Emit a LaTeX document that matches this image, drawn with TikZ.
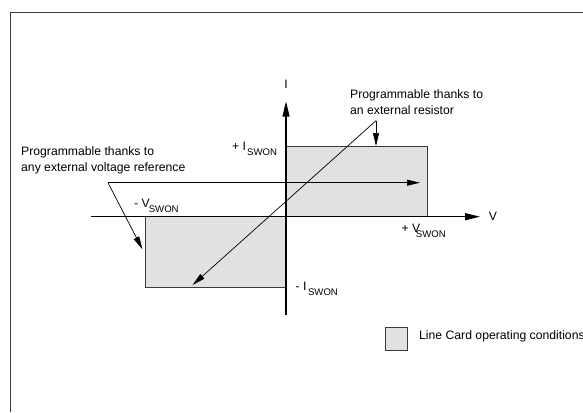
\documentclass[tikz,border=0pt]{standalone}
\usepackage{fontspec}
\setmainfont{Liberation Sans}
\usetikzlibrary{arrows.meta}
\definecolor{fillgray}{HTML}{E0E1E3}
\definecolor{linegray}{HTML}{3A3A3A}
\newcommand\swonsub{\raisebox{-5pt}{\fontsize{9.6}{10}\selectfont SWON}}
\tikzset{
  lbl/.style={inner sep=0pt, font=\fontsize{12.2}{16}\selectfont, text=black},
  axisline/.style={line width=1.2pt, black, -{Triangle[length=15pt,width=7pt]}},
  region/.style={fill=fillgray, draw=linegray, line width=0.9pt},
  pointer/.style={line width=0.7pt, black, -{Triangle[length=13pt,width=6pt]}},
  plainline/.style={line width=0.7pt, black},
}
\begin{document}
\begin{tikzpicture}[x=1pt,y=-1pt]
\useasboundingbox (0,0) rectangle (583,412);
\fill[white] (0,0) rectangle (583,412);
% frame
\draw[linegray, line width=1pt] (10.5,412) -- (10.5,13) -- (583,13);
% regions
\draw[region] (286,146) rectangle (427,216.7);
\draw[region] (145,216.7) rectangle (286,287.3);
% axes
\coordinate (vb) at (286,315);
\coordinate (vt) at (286,101.5);
\coordinate (hl) at (91,216.7);
\coordinate (hr) at (480,216.7);
\draw[axisline] (vb) -- (vt);
\draw[axisline] (hl) -- (hr);
\node[lbl] (Ilab) at (286,84) {I};
\node[lbl] (Vlab) at (493,216.7) {V};
% SWON labels
\node[lbl, anchor=base west] (ip) at (232,150) {+ I\kern1pt\swonsub};
\node[lbl, anchor=base west] (vm) at (134,207.1) {- V\kern-1pt\swonsub};
\node[lbl, anchor=base west] (vp) at (401.5,232.4) {+ V\kern-4.5pt\swonsub};
\node[lbl, anchor=base west] (im) at (295.5,290.4) {- I\kern1.5pt\swonsub};
% annotation texts
\node[lbl, anchor=west, align=left] (rtext) at (350,102) {Programmable thanks to\\an external resistor};
\node[lbl, anchor=west, align=left] (ltext) at (21,160.7) {Programmable thanks to\\any external voltage reference};
% resistor pointers
\coordinate (rp) at (376,120.7);
\coordinate (rtop) at (376,146);
\coordinate (rdiag) at (192.6,285);
\draw[pointer] (rp) -- (rtop);
\draw[pointer] (rp) -- (rdiag);
% voltage pointers
\coordinate (lp) at (108,182.7);
\coordinate (lright) at (420,182.7);
\coordinate (ldown) at (142.4,249.3);
\draw[pointer] (lp) -- (lright);
\draw[pointer] (lp) -- (ldown);
% legend
\draw[region] (385,327.7) rectangle (407,350) node[pos=0.5] (legbox) {};
\node[lbl, anchor=west] (legtext) at (419,336.7) {Line Card operating conditions};
\end{tikzpicture}
\end{document}
